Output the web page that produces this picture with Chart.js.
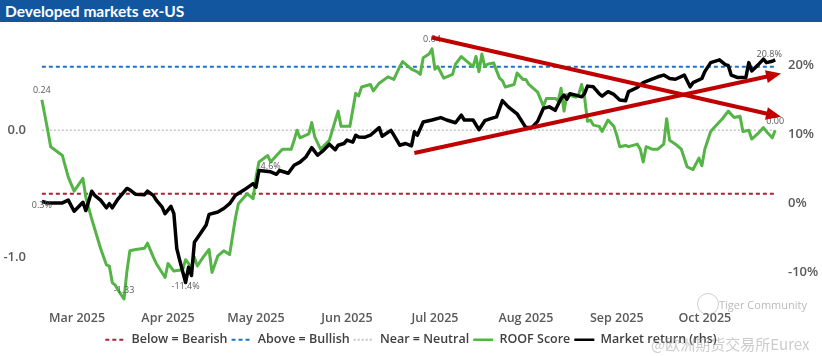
<!DOCTYPE html>
<html><head><meta charset="utf-8">
<script src="https://cdn.jsdelivr.net/npm/chart.js@4/dist/chart.umd.min.js"></script>
<style>
body{margin:0;background:#fff;width:822px;height:356px;overflow:hidden;position:relative;font-family:'Open Sans',sans-serif}
#title{position:absolute;left:0;top:0;width:822px;height:22px;background:#12569f;color:#fff;font-family:Lato,'Open Sans',sans-serif;font-weight:700;font-size:15.5px;line-height:22px;padding-left:5px;box-sizing:border-box;white-space:nowrap}
#wrap{position:absolute;left:0;top:22px;width:822px;height:334px}
.wm{position:absolute;white-space:nowrap;pointer-events:none}
</style></head>
<body>
<div id="title">Developed markets ex-US</div>
<div id="wrap"><canvas id="c" width="822" height="334"></canvas></div>
<div class="wm" style="left:697px;top:293px;width:20px;height:20px;border:1.5px solid rgba(150,150,150,0.45);border-radius:50%"></div>
<div class="wm" style="left:719px;top:297px;font-size:11px;color:rgba(140,140,140,0.6)">Tiger Community</div>
<div class="wm" style="left:651px;top:333px;font-size:15px;font-family:'Noto Sans CJK SC',sans-serif;color:rgba(160,160,160,0.55)">@欧洲期货交易所Eurex</div>
<script>
// ---------- data ----------
const roofDates = ['2025-02-17','2025-02-19','2025-02-20','2025-02-24','2025-02-26','2025-02-28','2025-03-03','2025-03-04','2025-03-06','2025-03-09','2025-03-11','2025-03-12','2025-03-13','2025-03-14','2025-03-15','2025-03-17','2025-03-18','2025-03-19','2025-03-21','2025-03-24','2025-03-25','2025-03-27','2025-03-28','2025-03-31','2025-04-01','2025-04-03','2025-04-06','2025-04-07','2025-04-09','2025-04-10','2025-04-11','2025-04-13','2025-04-15','2025-04-16','2025-04-18','2025-04-20','2025-04-22','2025-04-24','2025-04-25','2025-04-28','2025-04-30','2025-05-01','2025-05-02','2025-05-05','2025-05-06','2025-05-08','2025-05-10','2025-05-13','2025-05-14','2025-05-15','2025-05-16','2025-05-19','2025-05-20','2025-05-21','2025-05-23','2025-05-26','2025-05-29','2025-05-30','2025-06-02','2025-06-04','2025-06-05','2025-06-06','2025-06-09','2025-06-10','2025-06-12','2025-06-15','2025-06-17','2025-06-19','2025-06-20','2025-06-23','2025-06-25','2025-06-26','2025-06-27','2025-06-29','2025-06-30','2025-07-01','2025-07-02','2025-07-04','2025-07-07','2025-07-08','2025-07-10','2025-07-12','2025-07-14','2025-07-15','2025-07-16','2025-07-17','2025-07-18','2025-07-19','2025-07-21','2025-07-23','2025-07-24','2025-07-25','2025-07-28','2025-07-29','2025-07-31','2025-08-01','2025-08-02','2025-08-05','2025-08-07','2025-08-08','2025-08-11','2025-08-12','2025-08-13','2025-08-14','2025-08-15','2025-08-18','2025-08-19','2025-08-20','2025-08-21','2025-08-22','2025-08-23','2025-08-24','2025-08-26','2025-08-27','2025-08-29','2025-08-31','2025-09-01','2025-09-02','2025-09-04','2025-09-05','2025-09-08','2025-09-09','2025-09-10','2025-09-11','2025-09-13','2025-09-15','2025-09-17','2025-09-18','2025-09-19','2025-09-21','2025-09-23','2025-09-25','2025-09-27','2025-09-29','2025-09-30','2025-10-01','2025-10-03','2025-10-05','2025-10-07','2025-10-09','2025-10-11','2025-10-13','2025-10-14','2025-10-16','2025-10-17','2025-10-19','2025-10-21','2025-10-22','2025-10-24','2025-10-25'];
const roofScore = [0.24,0.00,-0.13,-0.20,-0.37,-0.48,-0.38,-0.53,-0.70,-0.93,-1.06,-1.07,-1.20,-1.22,-1.26,-1.33,-1.11,-0.95,-0.94,-0.93,-0.89,-1.00,-1.05,-1.16,-1.05,-1.11,-1.10,-1.02,-1.08,-1.00,-1.07,-1.00,-0.94,-1.12,-0.99,-0.95,-0.98,-0.69,-0.58,-0.50,-0.54,-0.37,-0.25,-0.20,-0.25,-0.20,-0.15,-0.15,-0.08,0.00,-0.06,-0.03,0.06,-0.05,-0.15,-0.08,0.15,0.03,0.03,0.29,0.27,0.34,0.36,0.31,0.37,0.42,0.40,0.50,0.54,0.48,0.46,0.44,0.57,0.60,0.64,0.48,0.50,0.41,0.44,0.52,0.58,0.54,0.50,0.58,0.46,0.60,0.50,0.52,0.53,0.41,0.39,0.34,0.36,0.45,0.40,0.40,0.36,0.30,0.19,0.25,0.25,0.23,0.33,0.15,0.28,0.26,0.28,0.36,0.26,0.07,0.08,0.04,0.03,-0.01,0.08,0.03,-0.04,-0.13,-0.12,-0.13,-0.11,-0.15,-0.25,-0.13,-0.15,-0.15,-0.11,0.09,-0.08,-0.11,-0.15,-0.29,-0.31,-0.22,-0.28,-0.15,-0.01,0.04,0.09,0.15,0.10,0.11,-0.01,0.00,-0.07,-0.03,0.02,-0.01,-0.06,0.00];

const returnDates = ['2025-02-17','2025-02-19','2025-02-24','2025-02-26','2025-02-28','2025-03-03','2025-03-04','2025-03-06','2025-03-07','2025-03-09','2025-03-11','2025-03-12','2025-03-13','2025-03-15','2025-03-18','2025-03-19','2025-03-21','2025-03-24','2025-03-25','2025-03-27','2025-03-28','2025-03-30','2025-03-31','2025-04-02','2025-04-03','2025-04-04','2025-04-05','2025-04-07','2025-04-08','2025-04-09','2025-04-10','2025-04-12','2025-04-14','2025-04-15','2025-04-18','2025-04-20','2025-04-22','2025-04-24','2025-04-27','2025-04-30','2025-05-01','2025-05-02','2025-05-06','2025-05-08','2025-05-09','2025-05-12','2025-05-14','2025-05-16','2025-05-18','2025-05-20','2025-05-22','2025-05-24','2025-05-26','2025-05-28','2025-05-29','2025-05-31','2025-06-01','2025-06-03','2025-06-04','2025-06-05','2025-06-07','2025-06-09','2025-06-12','2025-06-13','2025-06-16','2025-06-17','2025-06-19','2025-06-21','2025-06-23','2025-06-24','2025-06-25','2025-06-27','2025-06-30','2025-07-03','2025-07-05','2025-07-08','2025-07-10','2025-07-11','2025-07-14','2025-07-16','2025-07-18','2025-07-20','2025-07-22','2025-07-24','2025-07-26','2025-07-29','2025-08-01','2025-08-03','2025-08-05','2025-08-07','2025-08-09','2025-08-11','2025-08-13','2025-08-14','2025-08-15','2025-08-16','2025-08-18','2025-08-20','2025-08-21','2025-08-22','2025-08-24','2025-08-26','2025-08-27','2025-08-29','2025-08-31','2025-09-02','2025-09-04','2025-09-05','2025-09-08','2025-09-10','2025-09-13','2025-09-15','2025-09-17','2025-09-19','2025-09-21','2025-09-24','2025-09-26','2025-09-27','2025-09-30','2025-10-01','2025-10-03','2025-10-06','2025-10-08','2025-10-09','2025-10-10','2025-10-12','2025-10-15','2025-10-16','2025-10-17','2025-10-19','2025-10-21','2025-10-22','2025-10-24','2025-10-25'];
const marketReturn = [0.3,0.1,0.1,0.5,-1.1,0.2,-1.0,1.8,1.2,0.5,-0.6,0.0,-0.6,0.7,2.2,2.0,1.35,1.3,1.8,1.2,0.5,-0.5,-1.45,-0.4,-1.45,-6.5,-8.2,-11.4,-9.2,-10.4,-5.6,-4.35,-3.1,-1.55,-1.2,-0.7,0.0,1.2,2.0,2.9,2.4,4.8,4.6,4.25,4.8,4.4,5.55,6.0,6.75,8.1,7.0,7.7,8.6,7.8,8.45,8.7,9.2,8.9,9.9,9.65,9.6,9.9,11.0,9.75,10.6,9.9,8.45,8.7,8.35,10.4,9.9,11.8,12.1,12.45,12.1,11.7,12.8,12.1,12.1,10.7,12.0,12.3,12.55,14.9,14.0,13.0,11.0,11.0,11.9,13.8,14.0,13.5,15.2,15.7,15.1,15.9,15.7,15.45,15.9,17.0,16.9,15.9,15.55,16.2,15.8,15.0,14.9,16.2,16.8,17.5,18.0,18.35,18.6,18.1,18.0,18.6,16.9,17.5,18.1,19.1,20.4,20.8,20.1,20.0,18.6,18.25,18.25,20.4,19.2,20.0,20.9,20.4,20.6,20.8];

const monthTicks = ['2025-03-01','2025-04-01','2025-05-01','2025-06-01','2025-07-01','2025-08-01','2025-09-01','2025-10-01'];
const monthLabels = ['Mar 2025','Apr 2025','May 2025','Jun 2025','Jul 2025','Aug 2025','Sep 2025','Oct 2025'];
const leftTicks = [-1, 0];
const rightTicks = [-10, 0, 10, 20];
const bearishLevel = -0.5;
const bullishLevel = 0.5;
const neutralLevel = 0;
const trendArrows = [
  {from: ['2025-06-30', 0.73], to: ['2025-10-27', 0.105]},
  {from: ['2025-06-24', -0.18], to: ['2025-10-27', 0.447]}
];
const roofLabelAt = ['first', 'min', 'max', 'last'];
const returnLabelAt = ['first', 'min', '2025-05-06', 'last'];

// ---------- helpers ----------
const dayNum = s => { const [y,m,d] = s.split('-').map(Number); return (Date.UTC(y,m-1,d) - Date.UTC(2025,0,1))/864e5 + 1; };
const pts = (dates, vals) => dates.map((d,i) => ({x: dayNum(d), y: vals[i]}));
const span = (lvl) => [{x: dayNum(roofDates[0]), y: lvl}, {x: dayNum(roofDates[roofDates.length-1]), y: lvl}];
const FONT = "'Open Sans', sans-serif";
const noPad = s => { s.paddingTop = 0; s.paddingBottom = 0; s.paddingLeft = 0; s.paddingRight = 0; };

function pickIndex(dates, vals, key) {
  if (key === 'first') return 0;
  if (key === 'last') return vals.length - 1;
  if (key === 'min') return vals.indexOf(Math.min(...vals));
  if (key === 'max') return vals.indexOf(Math.max(...vals));
  return dates.indexOf(key);
}

const overlay = {
  id: 'overlay',
  afterDatasetsDraw(chart) {
    const {ctx, scales: {x, yL, yR}} = chart;
    ctx.save();
    ctx.font = "9px " + FONT;
    ctx.fillStyle = '#595959';
    ctx.textAlign = 'center';
    ctx.textBaseline = 'middle';
    roofLabelAt.forEach(k => {
      const i = pickIndex(roofDates, roofScore, k);
      ctx.fillText(roofScore[i].toFixed(2), x.getPixelForValue(dayNum(roofDates[i])), yL.getPixelForValue(roofScore[i]) - 9);
    });
    returnLabelAt.forEach(k => {
      const i = pickIndex(returnDates, marketReturn, k);
      const dy = (k === 'first' || k === 'min') ? 4 : -5;
      ctx.fillText(marketReturn[i].toFixed(1) + '%', x.getPixelForValue(dayNum(returnDates[i])) - (k === 'last' ? 6 : 0), yR.getPixelForValue(marketReturn[i]) + dy);
    });
    ctx.strokeStyle = '#c00000';
    ctx.fillStyle = '#c00000';
    ctx.lineWidth = 4;
    trendArrows.forEach(a => {
      const x1 = x.getPixelForValue(dayNum(a.from[0])), y1 = yL.getPixelForValue(a.from[1]);
      const x2 = x.getPixelForValue(dayNum(a.to[0])), y2 = yL.getPixelForValue(a.to[1]);
      const ang = Math.atan2(y2 - y1, x2 - x1);
      const head = 15, hw = 6.5;
      const bx = x2 - head * Math.cos(ang), by = y2 - head * Math.sin(ang);
      ctx.beginPath(); ctx.moveTo(x1, y1); ctx.lineTo(bx + 2*Math.cos(ang), by + 2*Math.sin(ang)); ctx.stroke();
      ctx.beginPath();
      ctx.moveTo(x2, y2);
      ctx.lineTo(bx - hw * Math.sin(ang), by + hw * Math.cos(ang));
      ctx.lineTo(bx + hw * Math.sin(ang), by - hw * Math.cos(ang));
      ctx.closePath(); ctx.fill();
    });
    ctx.restore();
  }
};

new Chart(document.getElementById('c'), {
  type: 'line',
  data: {
    datasets: [
      {label: 'Below = Bearish', data: span(bearishLevel), borderColor: '#b01f38', borderWidth: 2, borderDash: [4,3], yAxisID: 'yL', order: 3},
      {label: 'Above = Bullish', data: span(bullishLevel), borderColor: '#1f73c8', borderWidth: 2, borderDash: [4,3], yAxisID: 'yL', order: 2},
      {label: 'Near = Neutral', data: span(neutralLevel), borderColor: '#c4c4c4', borderWidth: 1.5, borderDash: [2,2], yAxisID: 'yL', order: 4},
      {label: 'ROOF Score', data: pts(roofDates, roofScore), borderColor: '#55b446', borderWidth: 3, yAxisID: 'yL', order: 1},
      {label: 'Market return (rhs)', data: pts(returnDates, marketReturn), borderColor: '#000000', borderWidth: 3.5, yAxisID: 'yR', order: 0}
    ]
  },
  options: {
    responsive: false,
    animation: false,
    devicePixelRatio: 1,
    layout: {padding: {top: 8, left: 0, right: 0, bottom: 0}},
    elements: {point: {radius: 0}, line: {tension: 0, fill: false, borderJoinStyle: 'round'}},
    plugins: {
      tooltip: {enabled: false},
      legend: {
        position: 'bottom',
        labels: {
          usePointStyle: true,
          pointStyleWidth: 20,
          padding: 4,
          color: '#404040',
          font: {family: FONT, size: 12.5, weight: '600'},
          generateLabels: chart => chart.data.datasets.map((ds, i) => ({
            text: ds.label,
            fillStyle: 'rgba(0,0,0,0)',
            strokeStyle: ds.borderColor,
            lineWidth: ds.borderDash ? 2 : 2.5,
            lineDash: ds.borderDash || [],
            pointStyle: 'line',
            hidden: false,
            datasetIndex: i,
            fontColor: '#404040'
          }))
        }
      }
    },
    scales: {
      x: {
        type: 'linear',
        min: dayNum('2025-02-15'),
        max: dayNum('2025-10-28'),
        grid: {display: false, drawTicks: false},
        border: {display: false},
        afterBuildTicks: s => { s.ticks = monthTicks.map(d => ({value: dayNum(d)})); },
        afterFit: s => { s.height = 25; noPad(s); },
        ticks: {
          autoSkip: false, maxRotation: 0, padding: 6,
          color: '#595959', font: {family: FONT, size: 12.5, weight: '600'},
          callback: (v) => monthLabels[monthTicks.findIndex(d => dayNum(d) === v)]
        }
      },
      yL: {
        type: 'linear', position: 'left',
        min: -1.373, max: 0.789,
        grid: {display: false, drawTicks: false},
        border: {display: false},
        afterBuildTicks: s => { s.ticks = leftTicks.map(v => ({value: v})); },
        afterFit: s => { s.width = 36; noPad(s); },
        ticks: {padding: 10, color: '#595959', font: {family: FONT, size: 13, weight: '600'}, callback: v => v.toFixed(1)}
      },
      yR: {
        type: 'linear', position: 'right',
        min: -14.59, max: 25.12,
        grid: {display: false, drawTicks: false},
        border: {display: false},
        afterBuildTicks: s => { s.ticks = rightTicks.map(v => ({value: v})); },
        afterFit: s => { s.width = 38; noPad(s); },
        ticks: {padding: 4, color: '#595959', font: {family: FONT, size: 13, weight: '600'}, callback: v => v + '%'}
      }
    }
  },
  plugins: [overlay]
});
</script>
</body></html>
